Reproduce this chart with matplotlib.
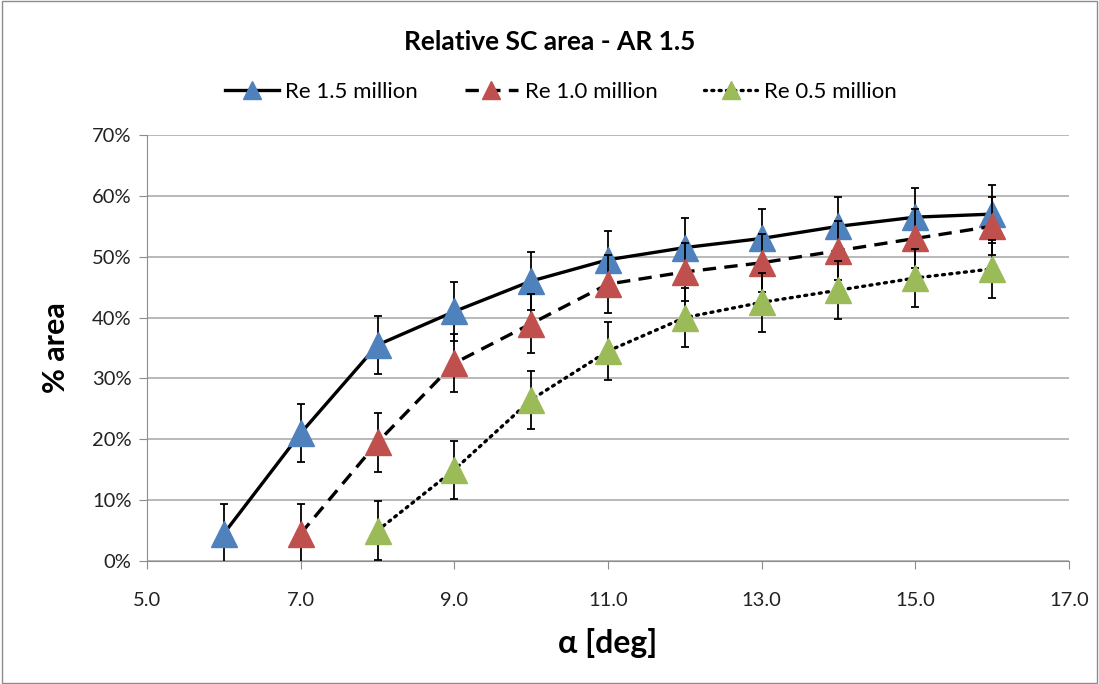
import matplotlib

matplotlib.use("Agg")

import matplotlib.pyplot as plt
from matplotlib.ticker import FuncFormatter, MultipleLocator

plt.rcParams["font.family"] = ["Lato", "DejaVu Sans"]

# angle of attack [deg]
alpha_15 = [6, 7, 8, 9, 10, 11, 12, 13, 14, 15, 16]
alpha_10 = [7, 8, 9, 10, 11, 12, 13, 14, 15, 16]
alpha_05 = [8, 9, 10, 11, 12, 13, 14, 15, 16]

# relative SC area [%]
area_15 = [4.5, 21.0, 35.5, 41.0, 46.0, 49.5, 51.5, 53.0, 55.0, 56.5, 57.0]
area_10 = [4.5, 19.5, 32.5, 39.0, 45.5, 47.5, 49.0, 51.0, 53.0, 55.0]
area_05 = [5.0, 15.0, 26.5, 34.5, 40.0, 42.5, 44.5, 46.5, 48.0]

err_15 = [4.8] * len(alpha_15)
err_10 = [4.8] * len(alpha_10)
err_05 = [4.8] * len(alpha_05)

x_ticks = [5, 7, 9, 11, 13, 15, 17]

series = [
    ("Re 1.5 million", alpha_15, area_15, err_15, "-", "#4f81bd"),
    ("Re 1.0 million", alpha_10, area_10, err_10, (0, (4, 2.5)), "#c0504d"),
    ("Re 0.5 million", alpha_05, area_05, err_05, (0, (0.6, 1.6)), "#9bbb59"),
]


def main():
    fig = plt.figure(figsize=(10.99, 6.84), dpi=100)
    ax = fig.add_axes([147 / 1099, 1 - 561 / 684, (1069 - 147) / 1099, (561 - 135) / 684])

    for i, (label, x, y, err, ls, color) in enumerate(series):
        ax.errorbar(x, y, yerr=err, fmt="none", ecolor="black", elinewidth=1.3,
                    capsize=3.2, capthick=1.3, zorder=3 + 2 * i)
        ax.plot(x, y, linestyle=ls, color="black", linewidth=2.4,
                marker="^", markersize=18.5, markerfacecolor=color,
                markeredgecolor=color, label=label, zorder=4 + 2 * i,
                dash_capstyle="round" if i == 2 else "butt")

    ax.set_xlim(5, 17)
    ax.set_ylim(0, 70)
    ax.set_xticks(x_ticks)
    ax.yaxis.set_major_locator(MultipleLocator(10))
    ax.xaxis.set_major_formatter(FuncFormatter(lambda v, p: f"{v:.1f}"))
    ax.yaxis.set_major_formatter(FuncFormatter(lambda v, p: f"{v:.0f}%"))

    ax.grid(axis="y", color="#a6a6a6", linewidth=1.1)
    ax.set_axisbelow(True)
    for side in ["top", "right"]:
        ax.spines[side].set_visible(False)
    for side in ["left", "bottom"]:
        ax.spines[side].set_color("#8c8c8c")
    ax.tick_params(axis="both", colors="#8c8c8c", labelcolor="#222222",
                   labelsize=14.5, length=6, direction="out")
    ax.tick_params(axis="x", pad=16)
    ax.tick_params(axis="y", pad=5)

    ax.set_xlabel("α [deg]", fontsize=23, fontweight="bold", labelpad=14)
    ax.set_ylabel("% area", fontsize=22, fontweight="bold", labelpad=16)

    fig.text(0.5, 1 - 42 / 684, "Relative SC area - AR 1.5", ha="center", va="center",
             fontsize=19, fontweight="bold")
    fig.legend(loc="center", bbox_to_anchor=(561 / 1099, 1 - 92 / 684), ncol=3, frameon=False,
               fontsize=16, handlelength=2.4, columnspacing=2.1, handletextpad=0.3,
               markerscale=0.7)

    border = plt.Rectangle((0.002, 0.002), 0.996, 0.996, transform=fig.transFigure,
                           fill=False, edgecolor="#8c8c8c", linewidth=1)
    fig.patches.append(border)

    fig.savefig("out.png", dpi=100)
    plt.close(fig)


if __name__ == "__main__":
    main()
